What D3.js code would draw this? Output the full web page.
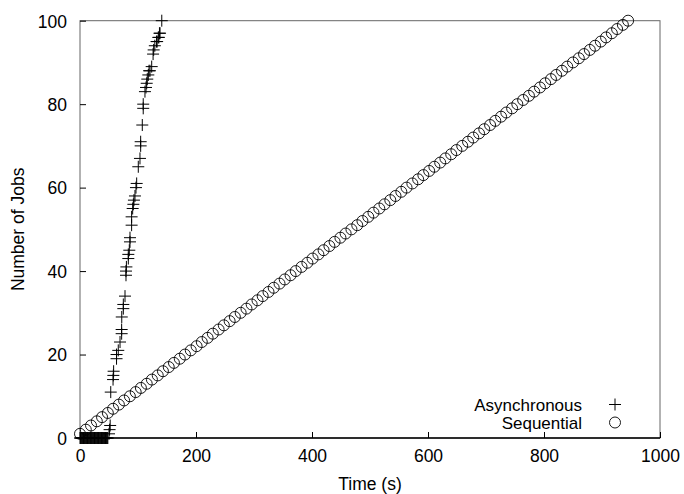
<!DOCTYPE html>
<html>
<head>
<meta charset="utf-8">
<script src="https://cdn.jsdelivr.net/npm/d3@7"></script>
<style>
  body { margin: 0; background: #fff; }
  text { font-family: "Liberation Sans", Arial, Helvetica, sans-serif; fill: #000; }
</style>
</head>
<body>
<script>
// async runs: completion time (s) and number of jobs done
let asyncTime = [0, 1, 2, 3, 4, 5, 6, 7, 8, 9, 10, 11, 12, 13, 14, 15, 16, 17, 18, 19, 20,
  21, 22, 23, 24, 25, 26, 27, 28, 29, 30, 31, 32, 33, 34, 35, 36, 37, 38, 39, 40,
  41, 42, 43, 44, 45, 46, 47, 48,
  50, 51, 52, 53, 57, 57.5, 58,
  63, 63, 66, 69, 71.8, 71.8, 72, 74.7, 74.7, 77.6,
  79.3, 79.3, 80, 83.3, 83.3, 85, 86.2, 86.2, 89, 89, 90.8, 92, 93, 94.8, 96.5, 97.7,
  100.5, 103.4, 104.6, 104.6, 107.4, 109, 109, 112, 113.8, 115, 116, 117.8, 119, 120.7, 123.6,
  126, 127, 129, 132, 133, 135, 136, 137, 138, 141];
let asyncJobs = [0, 0, 0, 0, 0, 0, 0, 0, 0, 0, 0, 0, 0, 0, 0, 0, 0, 0, 0, 0, 0,
  0, 0, 0, 0, 0, 0, 0, 0, 0, 0, 0, 0, 0, 0, 0, 0, 0, 0, 0, 0,
  0, 0, 0, 0, 0, 0, 0, 0,
  1, 2, 3, 11, 14, 15, 16,
  19, 20, 21, 23, 25, 26, 29, 31, 32, 34,
  39, 40, 41, 43, 44, 45, 47, 48, 51, 53, 55, 56, 57, 58, 60, 61,
  65, 67, 70, 71, 75, 79, 80, 83, 84, 85, 86, 87, 88, 88, 89,
  92, 93, 94, 95, 95, 96, 96, 97, 97, 100];

// sequential runs
let seqTime = [0, 10, 19, 29, 38, 48, 57, 67, 76, 86,
  96, 105, 115, 124, 134, 143, 153, 162, 172, 181,
  191, 201, 210, 220, 229, 239, 248, 258, 267, 277,
  287, 296, 306, 315, 325, 334, 344, 353, 363, 372,
  382, 392, 401, 411, 420, 430, 439, 449, 458, 468,
  478, 487, 497, 506, 516, 525, 535, 544, 554, 563,
  573, 583, 592, 602, 611, 621, 630, 640, 649, 659,
  669, 678, 688, 697, 707, 716, 726, 735, 745, 754,
  764, 774, 783, 793, 802, 812, 821, 831, 840, 850,
  860, 869, 879, 888, 898, 907, 917, 926, 936, 945];
let seqJobs = [1, 2, 3, 4, 5, 6, 7, 8, 9, 10,
  11, 12, 13, 14, 15, 16, 17, 18, 19, 20,
  21, 22, 23, 24, 25, 26, 27, 28, 29, 30,
  31, 32, 33, 34, 35, 36, 37, 38, 39, 40,
  41, 42, 43, 44, 45, 46, 47, 48, 49, 50,
  51, 52, 53, 54, 55, 56, 57, 58, 59, 60,
  61, 62, 63, 64, 65, 66, 67, 68, 69, 70,
  71, 72, 73, 74, 75, 76, 77, 78, 79, 80,
  81, 82, 83, 84, 85, 86, 87, 88, 89, 90,
  91, 92, 93, 94, 95, 96, 97, 98, 99, 100];

let xTicks = [0, 200, 400, 600, 800, 1000];
let yTicks = [0, 20, 40, 60, 80, 100];
let legendNames = ["Asynchronous", "Sequential"];

let width = 684, height = 494;
let mLeft = 80, mRight = 660, mTop = 20.7, mBottom = 438;

let x = d3.scaleLinear().domain([0, 1000]).range([mLeft, mRight]);
let y = d3.scaleLinear().domain([0, 100]).range([mBottom, mTop]);

let svg = d3.select("body").append("svg")
    .attr("width", width)
    .attr("height", height);

// frame
svg.append("rect")
    .attr("x", mLeft).attr("y", mTop)
    .attr("width", mRight - mLeft).attr("height", mBottom - mTop)
    .attr("fill", "none")
    .attr("stroke", "#666")
    .attr("stroke-width", 1);

let xAxis = d3.axisBottom(x).tickValues(xTicks).tickFormat(d3.format("d")).tickSize(-6).tickPadding(12);
let yAxis = d3.axisLeft(y).tickValues(yTicks).tickFormat(d3.format("d")).tickSize(-6).tickPadding(13);

let gx = svg.append("g").attr("transform", `translate(0,${mBottom})`).call(xAxis);
let gy = svg.append("g").attr("transform", `translate(${mLeft},0)`).call(yAxis);

[gx, gy].forEach(g => {
  g.select(".domain").remove();
  g.selectAll(".tick line").attr("stroke", "#000");
  g.selectAll(".tick text")
      .style("font-size", "17.5px")
      .style("font-family", "'Liberation Sans', Arial, sans-serif");
});
gx.selectAll(".tick text").attr("dy", "0.71em");
gy.selectAll(".tick text").attr("dy", "0.36em");

// zero line along the bottom
svg.append("line")
    .attr("x1", mLeft).attr("x2", mRight)
    .attr("y1", y(0)).attr("y2", y(0))
    .attr("stroke", "#000").attr("stroke-width", 1.5);

svg.append("text")
    .attr("x", (mLeft + mRight) / 2).attr("y", 490)
    .attr("text-anchor", "middle")
    .style("font-size", "17.5px")
    .text("Time (s)");

svg.append("text")
    .attr("transform", `translate(24,${(mTop + mBottom) / 2}) rotate(-90)`)
    .attr("text-anchor", "middle")
    .style("font-size", "17.5px")
    .text("Number of Jobs");

let plus = "M-6,0H6M0,-6V6";

svg.append("g")
  .selectAll("circle")
  .data(seqTime)
  .enter()
  .append("circle")
  .attr("cx", d => x(d))
  .attr("cy", (d, i) => y(seqJobs[i]))
  .attr("r", 5.5)
  .attr("fill", "none")
  .attr("stroke", "#000")
  .attr("stroke-width", 0.9);

svg.append("g")
  .selectAll("path")
  .data(asyncTime)
  .enter()
  .append("path")
  .attr("d", plus)
  .attr("transform", (d, i) => `translate(${x(d)},${y(asyncJobs[i])})`)
  .attr("stroke", "#000")
  .attr("stroke-width", 1);

// legend
let legend = svg.append("g");
legendNames.forEach((name, i) => {
  let ly = 404.5 + i * 18;
  legend.append("text")
      .attr("x", 582).attr("y", ly)
      .attr("dy", "0.36em")
      .attr("text-anchor", "end")
      .style("font-size", "17px")
      .text(name);
  if (i == 0) {
    legend.append("path")
        .attr("d", plus)
        .attr("transform", `translate(615,${ly})`)
        .attr("stroke", "#000");
  } else {
    legend.append("circle")
        .attr("cx", 615).attr("cy", ly)
        .attr("r", 5.5)
        .attr("fill", "none")
        .attr("stroke", "#000")
        .attr("stroke-width", 0.9);
  }
});
</script>
</body>
</html>
